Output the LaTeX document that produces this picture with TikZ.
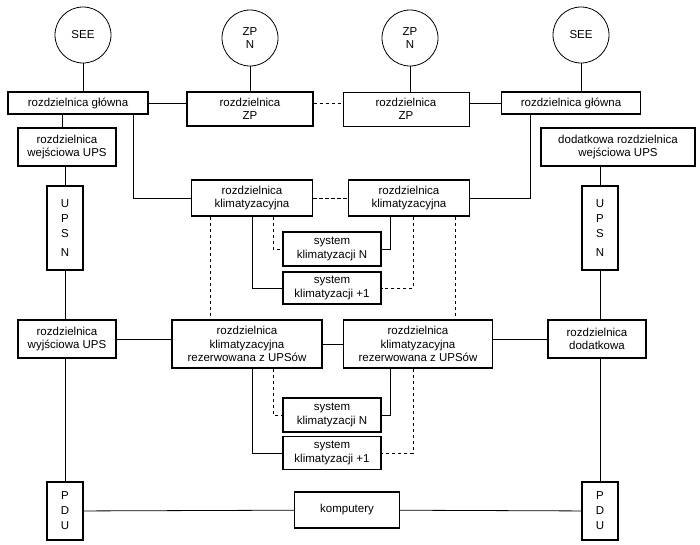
\documentclass[tikz,border=0pt]{standalone}
\usepackage{fontspec}
\setmainfont{Liberation Sans}
\begin{document}
\begin{tikzpicture}[x=1pt,y=-1pt,
  box/.style={draw,line width=1.3pt,minimum width=#1,align=center,inner sep=1pt,font=\fontsize{11.5}{13.5}\selectfont},
  circ/.style={draw,line width=0.8pt,circle,minimum size=56pt,align=center,font=\fontsize{11.5}{13.5}\selectfont},
  ln/.style={line width=0.8pt},
  dl/.style={line width=0.8pt,dash pattern=on 3.5pt off 2.5pt}]
\useasboundingbox (0,0) rectangle (700,544);
\node[circ] (s1) at (83,35) {SEE};
\node[circ] (z1) at (250,38) {ZP\\N};
\node[circ] (z2) at (410,38) {ZP\\N};
\node[circ] (s2) at (581,35) {SEE};
\node[box=140pt,minimum height=22pt] (g1) at (78,103) {rozdzielnica główna};
\node[box=126pt,minimum height=34pt] (zp1) at (250,109) {rozdzielnica\\ZP};
\node[box=126pt,minimum height=34pt,line width=0.6pt] (zp2) at (406,109) {rozdzielnica\\ZP};
\node[box=139pt,minimum height=22pt] (g2) at (571,103) {rozdzielnica główna};
\node[box=98pt,minimum height=38pt] (w1) at (67,147) {rozdzielnica\\wejściowa UPS};
\node[box=154pt,minimum height=38pt] (w2) at (618,147) {dodatkowa rozdzielnica\\wejściowa UPS};
\node[box=36pt,minimum height=84pt,font=\fontsize{11.5}{15}\selectfont] (u1) at (65,228) {U\\P\\S\\[4pt]N};
\node[box=36pt,minimum height=84pt,font=\fontsize{11.5}{15}\selectfont] (u2) at (600,228) {U\\P\\S\\[4pt]N};
\node[box=121pt,minimum height=36pt] (k1) at (252,198) {rozdzielnica\\klimatyzacyjna};
\node[box=121pt,minimum height=36pt] (k2) at (409,198) {rozdzielnica\\klimatyzacyjna};
\node[box=98pt,minimum height=34pt] (n1) at (332,249) {system\\klimatyzacji N};
\node[box=98pt,minimum height=32pt] (p1) at (332,288) {system\\klimatyzacji +1};
\node[box=98pt,minimum height=38pt] (y1) at (67,339) {rozdzielnica\\wyjściowa UPS};
\node[box=150pt,minimum height=48pt] (r1) at (247,344) {rozdzielnica\\klimatyzacyjna\\rezerwowana z UPSów};
\node[box=149pt,minimum height=48pt] (r2) at (418,344) {rozdzielnica\\klimatyzacyjna\\rezerwowana z UPSów};
\node[box=98pt,minimum height=38pt] (d2) at (597,339) {rozdzielnica\\dodatkowa};
\node[box=98pt,minimum height=34pt] (n2) at (332,415) {system\\klimatyzacji N};
\node[box=98pt,minimum height=33pt] (p2) at (332,453) {system\\klimatyzacji +1};
\node[box=36pt,minimum height=58pt,font=\fontsize{11.5}{15}\selectfont] (pd1) at (65,511) {P\\D\\U};
\node[box=105pt,minimum height=36pt] (kp) at (347,510) {komputery};
\node[box=36pt,minimum height=58pt,font=\fontsize{11.5}{15}\selectfont] (pd2) at (600,511) {P\\D\\U};
% top
\draw[ln] (s1) -- (s1|-g1.north);
\draw[ln] (z1) -- (zp1);
\draw[ln] (z2) -- (z2|-zp2.north);
\draw[ln] (s2) -- (s2|-g2.north);
\draw[ln] (g1.east) -- (g1.east-|zp1.west);
\draw[dl] (zp1.east|-g1.east) -- (zp2.west|-g1.east);
\draw[ln] (zp2.east|-g2.west) -- (g2.west);
% left chain
\draw[ln] (g1.south-|62,0) -- (w1.north-|62,0);
\draw[ln] (w1.south-|u1) -- (u1);
\draw[ln] (u1) -- (y1.north-|u1);
\draw[ln] (y1.south-|pd1) -- (pd1);
\draw[ln] (g1.south-|133,0) |- (k1.west);
\draw[ln] (g2.south-|530,0) |- (k2.east);
\draw[dl] (k1) -- (k2);
% right chain
\draw[ln] (w2.south-|u2) -- (u2);
\draw[ln] (u2) -- (d2.north-|u2);
\draw[ln] (d2.south-|pd2) -- (pd2);
% klim to rezerw
\draw[dl] (k1.south-|210,0) -- (r1.north-|210,0);
\draw[dl] (k2.south-|455,0) -- (r2.north-|455,0);
% systems top
\draw[ln] (k1.south) |- (p1.west);
\draw[dl] (k1.south-|273,0) |- (n1.west);
\draw[ln] (k2.south-|390,0) |- (n1.east);
\draw[dl] (k2.south-|413,0) |- (p1.east);
% systems bottom
\draw[ln] (r1.south-|252,0) |- (p2.west);
\draw[dl] (r1.south-|273,0) |- (n2.west);
\draw[ln] (r2.south-|390,0) |- (n2.east);
\draw[dl] (r2.south-|413,0) |- (p2.east);
% horizontal
\draw[ln] (y1.east) -- (y1.east-|r1.west);
\draw[ln] (r1) -- (r2);
\draw[ln] (r2.east|-d2.west) -- (d2.west);
\draw[ln] (pd1) -- (kp);
\draw[ln] (kp) -- (pd2);
\end{tikzpicture}
\end{document}
